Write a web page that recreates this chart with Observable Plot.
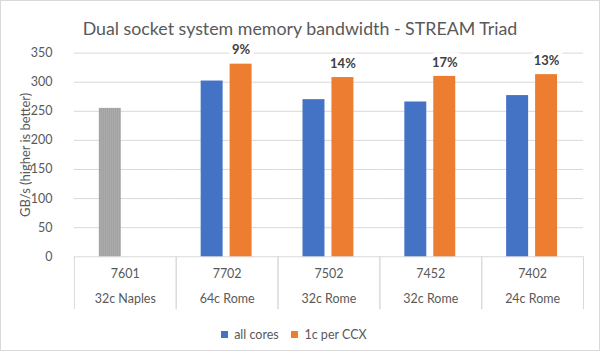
<!DOCTYPE html>
<html><head><meta charset="utf-8">
<script src="https://cdn.jsdelivr.net/npm/d3@7"></script>
<script src="https://cdn.jsdelivr.net/npm/@observablehq/plot@0.6"></script>
<style>
body{margin:0;background:#fff;}
#wrap{position:relative;width:600px;height:351px;box-sizing:border-box;border:1px solid #d9d9d9;overflow:hidden;font-family:Lato,sans-serif;color:#595959;background:#fff;}
#title{position:absolute;left:0;top:16px;width:100%;text-align:center;font-size:17.8px;line-height:22px;white-space:nowrap;}
#chart{position:absolute;left:-1px;top:-1px;}
#legend{position:absolute;left:0;width:100%;top:317px;display:flex;justify-content:center;}
g[aria-label="y-axis label"] text{font-size:13px;}
</style></head><body>
<div id="wrap"><div id="title">Dual socket system memory bandwidth - STREAM Triad</div><div id="chart"></div><div id="legend"></div></div>
<script>
const models = ["7601", "7702", "7502", "7452", "7402"];
const configs = ["32c Naples", "64c Rome", "32c Rome", "32c Rome", "24c Rome"];
const series = ["all cores", "1c per CCX"];
const seriesColors = ["#4472C4", "#ED7D31"];
const allCores = [255, 302, 270, 266, 277];
const perCCX = [null, 331, 308, 310, 313];
const gains = [null, "9%", "14%", "17%", "13%"];
const yTicks = [0, 50, 100, 150, 200, 250, 300, 350];

const naples = [{model: models[0], series: series[0], value: allCores[0]}];
const rome = [];
const labels = [];
models.forEach((m, i) => {
  if (i === 0) return;
  rome.push({model: m, series: series[0], value: allCores[i]});
  rome.push({model: m, series: series[1], value: perCCX[i]});
  labels.push({model: m, series: series[1], value: perCCX[i], gain: gains[i]});
});

const grid = "#d9d9d9";
const plot = Plot.plot({
  width: 600, height: 351,
  marginTop: 52.7, marginBottom: 94.3, marginLeft: 73, marginRight: 16,
  style: {fontFamily: "Lato, sans-serif", fontSize: "12px", color: "#595959", background: "transparent", overflow: "visible"},
  fx: {domain: models, padding: 0, axis: null},
  x: {domain: series, paddingInner: 0.233, paddingOuter: 0.843, axis: null},
  y: {domain: [0, 350], axis: null},
  color: {domain: series, range: seriesColors},
  marks: [
    Plot.gridY(yTicks.filter(t => t > 0), {stroke: grid, strokeOpacity: 1}),
    Plot.axisY(yTicks, {tickSize: 0, tickPadding: 22, fontSize: 12.5, label: "GB/s (higher is better)", labelAnchor: "center", labelArrow: "none", labelOffset: 54}),
    Plot.frame({anchor: "left", stroke: grid, strokeOpacity: 1, insetTop: 204, insetBottom: -52}),
    Plot.frame({anchor: "right", stroke: grid, strokeOpacity: 1, insetTop: 204, insetBottom: -52}),
    Plot.ruleY([0], {stroke: grid, strokeOpacity: 1}),
    Plot.barY(naples, {fx: "model", x: "series", y: "value", fill: "url(#hatch)"}),
    Plot.barY(rome, {fx: "model", x: "series", y: "value", fill: "series"}),
    Plot.text(labels, {fx: "model", x: "series", y: "value", text: "gain", dy: -14, fontWeight: "bold", fontSize: 13, fill: "#404040", stroke: "white", strokeWidth: 9, paintOrder: "stroke"}),
    Plot.axisFx({anchor: "bottom", tickSize: 0, tickPadding: 12, fontSize: 12.5, label: null}),
    Plot.axisFx({anchor: "bottom", tickSize: 0, tickPadding: 37, fontSize: 12.5, label: null, tickFormat: d => configs[models.indexOf(d)]})
  ]
});

const defs = d3.select(plot).insert("defs", ":first-child");
const pat = defs.append("pattern").attr("id", "hatch").attr("patternUnits", "userSpaceOnUse").attr("width", 2).attr("height", 4);
pat.append("rect").attr("width", 2).attr("height", 4).attr("fill", "#adadad");
pat.append("rect").attr("width", 1).attr("height", 4).attr("fill", "#a0a0a0");

document.getElementById("chart").appendChild(plot);

const leg = plot.legend("color", {swatchSize: 7, style: {fontFamily: "Lato, sans-serif", fontSize: "12.5px", color: "#595959", marginLeft: "0px"}});
document.getElementById("legend").appendChild(leg);
</script>
</body></html>
